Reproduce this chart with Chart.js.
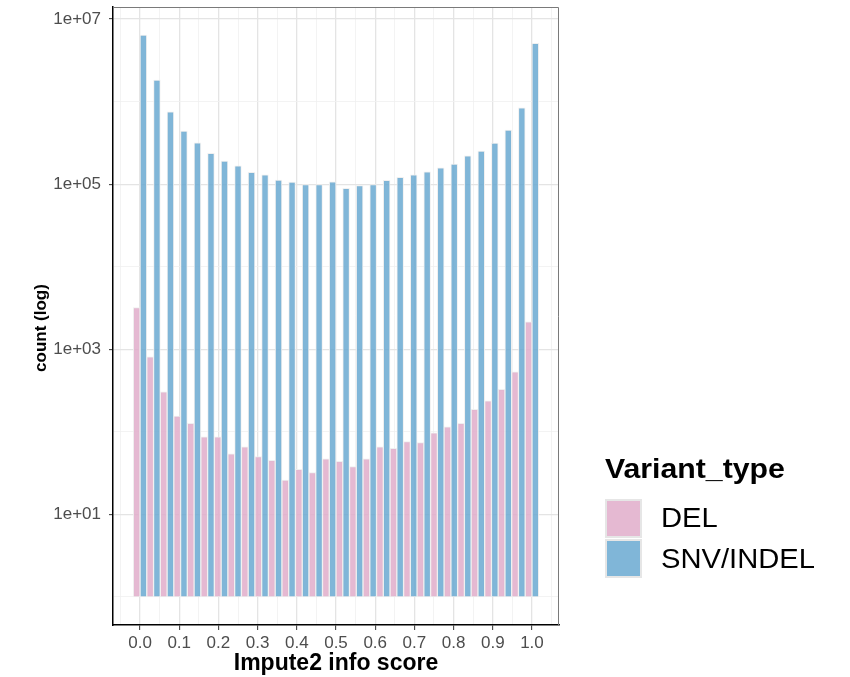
<!DOCTYPE html>
<html>
<head>
<meta charset="utf-8">
<script src="https://cdn.jsdelivr.net/npm/chart.js@4/dist/chart.umd.min.js"></script>
<style>
  html, body { margin: 0; padding: 0; background: #fff; }
  #wrap { position: relative; width: 850px; height: 677px; }
  #c { position: absolute; left: 0; top: 0; }
  .lg { position: absolute; font-family: 'Liberation Sans', Arial, sans-serif; color: #000; white-space: nowrap; transform-origin: 0 0; transform: scaleX(1.08); }
  .lg-title { font-weight: bold; font-size: 28px; line-height: 28px; }
  .lg-label { font-size: 27px; line-height: 27px; }
  .lg-key { position: absolute; box-sizing: border-box; border: 2px solid #E6E6E6; background: #fff; }
  .lg-key span { position: absolute; left: 0; top: 0; right: 0; bottom: 0; }
</style>
</head>
<body>
<div id="wrap">
  <canvas id="c" width="850" height="677"></canvas>
  <div id="legend"></div>
</div>
<script>
// Histogram bin centres (30 bins over the info score range)
const binCenters = [0.0000, 0.0345, 0.0690, 0.1034, 0.1379, 0.1724, 0.2069, 0.2414, 0.2759, 0.3103,
                    0.3448, 0.3793, 0.4138, 0.4483, 0.4828, 0.5172, 0.5517, 0.5862, 0.6207, 0.6552,
                    0.6897, 0.7241, 0.7586, 0.7931, 0.8276, 0.8621, 0.8966, 0.9310, 0.9655, 1.0000];

// Variant counts per bin
const delCounts = [3200, 810, 305, 155, 127, 87, 87, 54, 66, 50,
                   45, 26, 35, 32, 47, 44, 38, 47, 66, 63,
                   76, 74, 97, 115, 127, 187, 238, 327, 533, 2150];
const snvCounts = [6400000, 1820000, 750000, 440000, 318000, 236000, 190000, 167000, 139000, 130000,
                   112000, 106000, 99000, 99000, 107000, 89000, 96000, 99000, 111000, 121000,
                   130000, 141000, 158000, 175000, 221000, 252000, 315000, 452000, 840000, 5070000];

const seriesNames = ['DEL', 'SNV/INDEL'];
const legendTitle = 'Variant_type';
const xTitle = 'Impute2 info score';
const yTitle = 'count (log)';

// Axis ticks
const xTickValues = [0, 0.1, 0.2, 0.3, 0.4, 0.5, 0.6, 0.7, 0.8, 0.9, 1.0];
const xTickLabels = ['0.0', '0.1', '0.2', '0.3', '0.4', '0.5', '0.6', '0.7', '0.8', '0.9', '1.0'];
const xMinorValues = [-0.05, 0.05, 0.15, 0.25, 0.35, 0.45, 0.55, 0.65, 0.75, 0.85, 0.95, 1.05];
const yTickValues = [1e1, 1e3, 1e5, 1e7];
const yTickLabels = ['1e+01', '1e+03', '1e+05', '1e+07'];
const yMinorValues = [1e0, 1e2, 1e4, 1e6];

// Fill colours (slightly translucent so grid lines show through)
const fills = ['rgba(224,173,202,0.85)', 'rgba(106,169,209,0.85)'];
const edge = 'rgba(238,238,238,0.9)';

// Scale limits: bin edges padded by 5% on each side, log counts padded by 5%
const binWidth = binCenters[1] - binCenters[0];
const xLo = binCenters[0] - binWidth / 2;
const xHi = binCenters[binCenters.length - 1] + binWidth / 2;
const xPad = (xHi - xLo) * 0.05;
const logMax = Math.log10(Math.max(...snvCounts, ...delCounts));
const yMin = Math.pow(10, -0.05 * logMax);
const yMax = Math.pow(10, logMax * 1.05);

const near = (a, b) => Math.abs(a - b) < 1e-9 * Math.max(1, Math.abs(b));
const isMajor = (list, v) => list.some(t => near(v, t));

const FONT = "'Liberation Sans', Arial, sans-serif";
Chart.defaults.font.family = FONT;

// Grey frame on the top and right of the panel
const panelFrame = {
  id: 'panelFrame',
  afterDatasetsDraw(chart) {
    const { left, right, top, bottom } = chart.chartArea;
    const g = chart.ctx;
    g.save();
    g.strokeStyle = '#7a7a7a';
    g.lineWidth = 1;
    g.beginPath();
    g.moveTo(left, top + 0.5);
    g.lineTo(right - 0.5, top + 0.5);
    g.lineTo(right - 0.5, bottom);
    g.stroke();
    g.restore();
  }
};

// Rotated y-axis title, set a little below the panel middle
const yAxisTitle = {
  id: 'yAxisTitle',
  afterDraw(chart) {
    const { top, bottom } = chart.chartArea;
    const g = chart.ctx;
    g.save();
    g.translate(41, (top + bottom) / 2 + 12);
    g.rotate(-Math.PI / 2);
    g.font = 'bold 17px ' + FONT;
    g.fillStyle = '#000';
    g.textAlign = 'center';
    g.textBaseline = 'middle';
    g.fillText(yTitle, 0, 0);
    g.restore();
  }
};

const gridColor = list => ctx => (ctx.tick && isMajor(list, ctx.tick.value)) ? '#E4E4E4' : '#F0F0F0';
const gridWidth = list => ctx => (ctx.tick && isMajor(list, ctx.tick.value)) ? 1.3 : 0.8;
const tickMarkColor = list => ctx => (ctx.tick && isMajor(list, ctx.tick.value)) ? '#333333' : 'rgba(0,0,0,0)';

new Chart(document.getElementById('c'), {
  type: 'bar',
  data: {
    datasets: [
      {
        label: seriesNames[0],
        data: binCenters.map((x, i) => ({ x: x, y: [1, delCounts[i]] })),
        backgroundColor: fills[0],
        borderColor: edge,
        borderWidth: 1,
        borderSkipped: false
      },
      {
        label: seriesNames[1],
        data: binCenters.map((x, i) => ({ x: x, y: [1, snvCounts[i]] })),
        backgroundColor: fills[1],
        borderColor: edge,
        borderWidth: 1,
        borderSkipped: false
      }
    ]
  },
  options: {
    responsive: false,
    animation: false,
    events: [],
    layout: { padding: { left: 0, right: 291, top: 7, bottom: 0 } },
    datasets: { bar: { categoryPercentage: 1, barPercentage: 1, grouped: true } },
    plugins: { legend: { display: false }, tooltip: { enabled: false } },
    scales: {
      x: {
        type: 'linear',
        min: xLo - xPad,
        max: xHi + xPad,
        offset: false,
        afterFit(s) { s.height = 52; s.paddingLeft = 0; s.paddingRight = 0; },
        afterBuildTicks(s) {
          s.ticks = xTickValues.concat(xMinorValues).sort((a, b) => a - b).map(v => ({ value: v }));
        },
        ticks: {
          autoSkip: false,
          maxRotation: 0,
          padding: 3,
          color: '#4D4D4D',
          font: { size: 17 },
          callback(value) {
            const i = xTickValues.findIndex(t => near(t, value));
            return i >= 0 ? xTickLabels[i] : '';
          }
        },
        grid: {
          offset: false,
          color: gridColor(xTickValues),
          lineWidth: gridWidth(xTickValues),
          tickColor: tickMarkColor(xTickValues),
          tickWidth: 1,
          tickLength: 5
        },
        border: { display: true, color: '#000', width: 1.5 },
        title: {
          display: true,
          text: xTitle,
          color: '#000',
          font: { size: 23, weight: 'bold', lineHeight: 1.2 },
          padding: { top: 1, bottom: 0 }
        }
      },
      y: {
        type: 'logarithmic',
        min: yMin,
        max: yMax,
        afterFit(s) { s.width = 113; s.paddingTop = 0; s.paddingBottom = 0; },
        afterBuildTicks(s) {
          s.ticks = yTickValues.concat(yMinorValues).sort((a, b) => a - b).map(v => ({ value: v }));
        },
        ticks: {
          autoSkip: false,
          padding: 8,
          color: '#4D4D4D',
          font: { size: 17 },
          callback(value) {
            const i = yTickValues.findIndex(t => near(t, value));
            return i >= 0 ? yTickLabels[i] : '';
          }
        },
        grid: {
          color: gridColor(yTickValues),
          lineWidth: gridWidth(yTickValues),
          tickColor: tickMarkColor(yTickValues),
          tickWidth: 1,
          tickLength: 4
        },
        border: { display: true, color: '#000', width: 1.5 },
        title: { display: false }
      }
    }
  },
  plugins: [panelFrame, yAxisTitle]
});

// Legend for the fill colours
const legend = document.getElementById('legend');
const title = document.createElement('div');
title.className = 'lg lg-title';
title.style.left = '605px';
title.style.top = '455px';
title.textContent = legendTitle;
legend.appendChild(title);
seriesNames.forEach((name, i) => {
  const key = document.createElement('div');
  key.className = 'lg-key';
  key.style.left = '605px';
  key.style.top = (499 + i * 40) + 'px';
  key.style.width = '37px';
  key.style.height = '39px';
  const sw = document.createElement('span');
  sw.style.background = fills[i];
  key.appendChild(sw);
  legend.appendChild(key);
  const lab = document.createElement('div');
  lab.className = 'lg lg-label';
  lab.style.left = '661px';
  lab.style.top = (505 + i * 41) + 'px';
  lab.textContent = name;
  legend.appendChild(lab);
});
</script>
</body>
</html>
